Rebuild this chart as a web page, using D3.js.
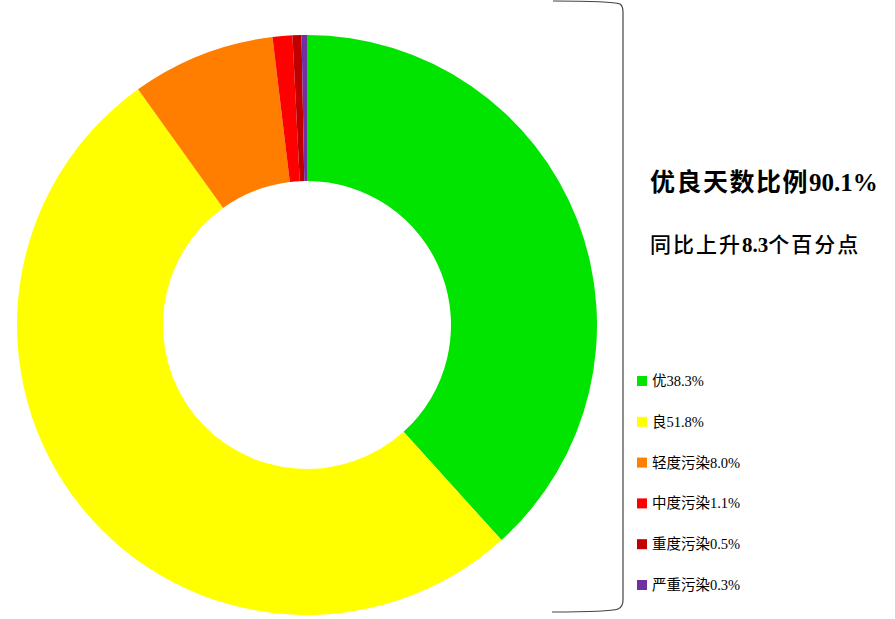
<!DOCTYPE html>
<html><head><meta charset="utf-8">
<script src="https://cdn.jsdelivr.net/npm/d3@7/dist/d3.min.js"></script>
<style>body{margin:0;background:#fff;}svg{display:block;}</style>
</head><body>
<svg id="c" width="895" height="619"></svg>
<script>
const categories = ["优", "良", "轻度污染", "中度污染", "重度污染", "严重污染"];
const values = [38.3, 51.8, 8.0, 1.1, 0.5, 0.3];
const colors = ["#00E400", "#FFFF00", "#FF7E00", "#FF0000", "#C00000", "#7030A0"];
const headline = ["优良天数比例", "90.1%"];
const subline = ["同比上升", "8.3", "个百分点"];

const svg = d3.select("#c");
const cx = 307, cy = 325, R = 290, r = 144;
const pie = d3.pie().sort(null).value(d => d.v);
const data = categories.map((c, i) => ({c, v: values[i], col: colors[i]}));
const arc = d3.arc().innerRadius(r).outerRadius(R);
svg.append("g").attr("transform", `translate(${cx},${cy})`)
  .selectAll("path").data(pie(data)).join("path")
  .attr("d", arc).attr("fill", d => d.data.col);

// bracket
svg.append("path")
  .attr("d", "M553,1 Q612,1 620,4 Q623,6 623,12 L623,600 Q623,607 618,609 Q610,612 552,612")
  .attr("fill", "none").attr("stroke", "#444").attr("stroke-width", 1.2);

const serifCJK = "'Liberation Serif','Noto Sans CJK SC',serif";
const t1 = svg.append("text").attr("x", 650).attr("y", 191)
  .style("font-family", serifCJK).style("font-size", "25px").style("font-weight", "bold")
  .attr("fill", "#000");
t1.append("tspan").style("letter-spacing", "1.5px").text(headline[0]);
t1.append("tspan").text(headline[1]);

const t2 = svg.append("text").attr("x", 650).attr("y", 252)
  .style("font-family", serifCJK).style("font-size", "21px").attr("fill", "#000");
t2.append("tspan").style("font-weight", "500").style("letter-spacing", "2px").text(subline[0]);
t2.append("tspan").style("font-weight", "bold").text(subline[1]);
t2.append("tspan").style("font-weight", "500").style("letter-spacing", "2px").text(subline[2]);

const leg = svg.append("g");
const ly = d3.scalePoint().domain(categories).range([381, 585]);
const items = leg.selectAll("g").data(data).join("g")
  .attr("transform", d => `translate(637,${ly(d.c)})`);
items.append("rect").attr("x", 0).attr("y", -5).attr("width", 10).attr("height", 10).attr("fill", d => d.col);
items.append("text").attr("x", 15).attr("y", 5)
  .style("font-family", "'Liberation Serif','Noto Sans CJK SC',serif").style("font-size", "14.5px")
  .attr("fill", "#000")
  .text(d => d.c + d3.format(".1f")(d.v) + "%");
</script>
</body></html>
